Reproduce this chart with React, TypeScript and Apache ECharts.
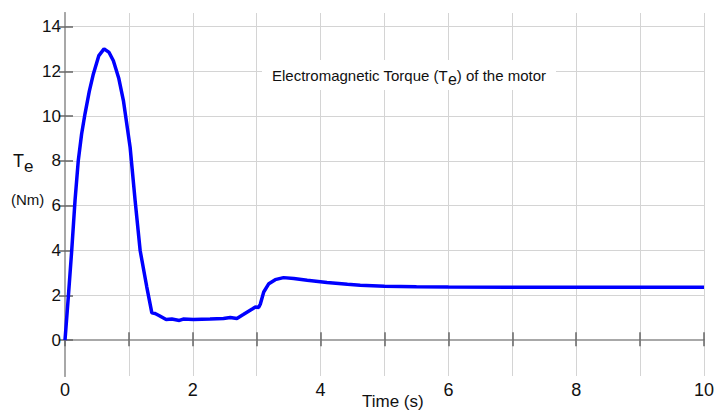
import React, { useEffect, useRef } from "react";
import * as echarts from "echarts";

const time = [0, 0.052, 0.105, 0.157, 0.208, 0.26, 0.313, 0.38, 0.444, 0.53, 0.611, 0.69, 0.757, 0.84, 0.914, 1.019, 1.097, 1.176, 1.28, 1.359, 1.41, 1.47, 1.583, 1.672, 1.79, 1.85, 2.01, 2.27, 2.48, 2.586, 2.69, 2.79, 2.93, 2.98, 3.03, 3.056, 3.11, 3.19, 3.29, 3.42, 3.58, 3.79, 4.1, 4.42, 4.62, 5.0, 5.5, 6.0, 7.0, 8.0, 9.0, 10.0];
const torque = [0, 1.93, 4.0, 6.24, 8.02, 9.2, 10.1, 11.1, 11.88, 12.7, 13.0, 12.84, 12.47, 11.7, 10.69, 8.61, 6.24, 4.0, 2.37, 1.22, 1.19, 1.1, 0.92, 0.94, 0.88, 0.94, 0.92, 0.94, 0.97, 1.01, 0.97, 1.14, 1.39, 1.48, 1.46, 1.6, 2.15, 2.52, 2.7, 2.79, 2.75, 2.67, 2.57, 2.49, 2.45, 2.41, 2.38, 2.37, 2.36, 2.36, 2.36, 2.36];
const yTicks = [0, 2, 4, 6, 8, 10, 12, 14];

const FONT = "'Liberation Sans', Arial, sans-serif";

export default function App() {
  const ref = useRef<HTMLDivElement>(null);
  useEffect(() => {
    if (!ref.current) return;
    const chart = echarts.init(ref.current, undefined, { renderer: "svg" });
    const frame = { show: true, lineStyle: { color: "#a8a8a8", width: 2 } };
    const tickStyle = { color: "#666", width: 1.5 };
    chart.setOption({
      animation: false,
      backgroundColor: "#fff",
      grid: { left: 65, right: 19, top: 13, bottom: 43, containLabel: false },
      xAxis: [
        {
          type: "value",
          min: 0,
          max: 10,
          interval: 1,
          position: "bottom",
          axisLine: frame,
          axisTick: { show: true, inside: true, length: 8, lineStyle: tickStyle },
          axisLabel: {
            formatter: (v: number) => (v % 2 === 0 ? String(v) : ""),
            fontFamily: FONT,
            fontSize: 18,
            color: "#111",
            margin: 5,
          },
          splitLine: { show: true, lineStyle: { color: "#d4d4d4", width: 1 } },
        },
        {
          type: "value",
          min: 0,
          max: 10,
          interval: 1,
          position: "top",
          axisLine: frame,
          axisTick: { show: true, inside: true, length: 6, lineStyle: tickStyle },
          axisLabel: { show: false },
          splitLine: { show: false },
        },
      ],
      yAxis: [
        {
          type: "value",
          min: -1.6,
          max: 14.6,
          position: "left",
          axisLine: frame,
          axisTick: { show: true, inside: true, length: 8, lineStyle: tickStyle, customValues: yTicks },
          axisLabel: {
            customValues: yTicks,
            fontFamily: FONT,
            fontSize: 17,
            color: "#111",
            margin: 4,
          },
          splitLine: { show: true, lineStyle: { color: "#d4d4d4", width: 1 } },
        },
        {
          type: "value",
          min: -1.6,
          max: 14.6,
          position: "right",
          axisLine: frame,
          axisTick: { show: true, inside: true, length: 6, lineStyle: tickStyle, customValues: yTicks },
          axisLabel: { show: false, customValues: yTicks },
          splitLine: { show: false },
        },
      ],
      series: [
        {
          type: "line",
          xAxisIndex: 0,
          yAxisIndex: 0,
          data: time.map((t, i) => [t, torque[i]]),
          showSymbol: false,
          lineStyle: { color: "#0000ff", width: 3.5 },
          z: 5,
        },
      ],
      graphic: [
        {
          type: "text",
          left: 262,
          top: 60,
          z: 10,
          style: {
            text: "Electromagnetic Torque (T{sub|e}) of the motor",
            fontFamily: FONT,
            fontSize: 15,
            fill: "#111",
            backgroundColor: "#fff",
            padding: [3, 10, 3, 10],
            rich: {
              sub: { fontFamily: FONT, fontSize: 16, fill: "#111", padding: [8, 0, 0, 0] },
            },
          },
        },
        {
          type: "text",
          left: 13,
          top: 152,
          style: {
            text: "T{sub|e}",
            fontFamily: FONT,
            fontSize: 18,
            fill: "#111",
            rich: { sub: { fontFamily: FONT, fontSize: 17, fill: "#111", padding: [10, 0, 0, 0] } },
          },
        },
        {
          type: "text",
          left: 11,
          top: 192,
          style: { text: "(Nm)", fontFamily: FONT, fontSize: 15, fill: "#111" },
        },
        {
          type: "text",
          left: 362,
          top: 393,
          style: { text: "Time (s)", fontFamily: FONT, fontSize: 17, fill: "#111" },
        },
      ],
    });
    return () => chart.dispose();
  }, []);
  return (
    <div
      ref={ref}
      style={{ position: "fixed", left: 0, top: 0, width: 723, height: 419, background: "#fff" }}
    />
  );
}
